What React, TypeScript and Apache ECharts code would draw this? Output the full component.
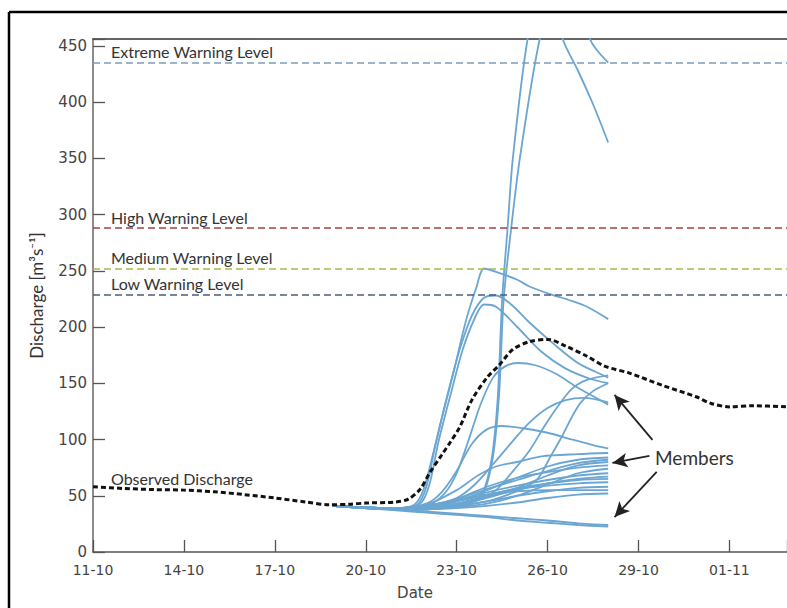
import React, { useEffect, useRef } from 'react';
import * as echarts from 'echarts';

// ---- axes ----
const xTickLabels = ['11-10', '14-10', '17-10', '20-10', '23-10', '26-10', '29-10', '01-11'];
const xTickStep = 3; // days between ticks (day 0 = 11-10)
const xMaxDay = 22.9;
const yMax = 456;
const yTickStep = 50;

// ---- observed discharge (day offset, m3/s) ----
const observedDays = [0, 1, 2, 3, 4, 5, 6, 7, 7.8, 8.5, 9, 10, 10.4, 10.8, 11.1, 11.5, 11.8, 12.1, 12.5, 13.0, 13.4, 13.85, 14.4, 15.0, 15.6, 16.3, 16.9, 17.7, 18.8, 19.9, 20.4, 21.0, 21.8, 22.9];
const observedValues = [58, 56.5, 55.5, 55, 53.5, 51, 48, 44.5, 42, 42.5, 43.5, 44.5, 47, 56, 70, 86, 98, 111, 135, 155, 166, 180, 187, 189, 183, 174, 165, 159, 148, 138, 132, 129, 130, 129];

// ---- warning levels ----
const warningNames = ['Extreme Warning Level', 'High Warning Level', 'Medium Warning Level', 'Low Warning Level'];
const warningValues = [435, 288, 252, 229];

// ---- ensemble members ([day, value]) ----
const m01 = [[7.9, 41], [10, 39], [11, 40], [12, 42], [12.5, 45], [12.85, 52], [13.15, 82], [13.35, 135], [13.5, 224], [13.68, 288], [13.85, 349], [14.34, 456], [14.9, 520], [15.5, 456], [16, 428], [16.5, 398], [17, 364]];
const m02 = [[7.9, 41], [10, 39], [11, 40], [12, 42], [12.6, 46], [12.9, 53], [13.2, 85], [13.4, 140], [13.55, 224], [13.8, 288], [14.08, 349], [14.74, 456], [15.6, 540], [16.4, 456], [17, 435]];
const m03 = [[7.9, 41], [10, 39], [10.6, 42], [10.9, 55], [11.2, 85], [11.5, 118], [11.9, 160], [12.3, 205], [12.66, 236], [12.9, 252], [13.3, 249], [14.0, 242], [14.4, 236], [15.1, 229], [15.7, 224], [16.3, 218], [17, 207]];
const m04 = [[7.9, 41], [10, 39], [10.7, 42], [11.0, 58], [11.3, 95], [11.7, 140], [12.1, 180], [12.5, 210], [12.9, 226], [13.3, 228], [13.8, 220], [14.4, 204], [15.2, 185], [16.0, 168], [16.6, 160], [17, 155]];
const m05 = [[7.9, 41], [10, 39], [10.8, 43], [11.1, 60], [11.4, 98], [11.8, 140], [12.2, 180], [12.6, 208], [12.9, 220], [13.3, 218], [14.0, 200], [14.8, 178], [15.6, 163], [16.4, 154], [17, 150]];
const m06 = [[7.9, 41], [10, 39], [11, 41], [11.6, 52], [12.0, 70], [12.4, 100], [12.8, 132], [13.2, 155], [13.6, 165], [14.0, 168], [14.6, 166], [15.3, 158], [16.0, 146], [16.6, 137], [17, 131]];
const m07 = [[7.9, 41], [10, 39], [11, 43], [11.5, 53], [12.0, 72], [12.5, 96], [13.0, 109], [13.5, 112], [14.2, 110], [15.0, 106], [15.8, 100], [16.5, 95], [17, 92]];
const m08 = [[7.9, 41], [10, 38], [11, 38], [12, 41], [12.8, 47], [13.3, 55], [13.8, 70], [14.4, 90], [14.9, 112], [15.3, 128], [15.8, 145], [16.3, 153], [17, 157]];
const m09 = [[7.9, 41], [10, 38], [11, 39], [12, 41], [13, 45], [13.8, 52], [14.3, 58], [14.7, 66], [15.1, 85], [15.5, 104], [15.8, 120], [16.1, 133], [16.5, 143], [17, 150]];
const m10 = [[7.9, 41], [10, 39], [11, 41], [12, 48], [12.6, 60], [13.2, 78], [13.8, 97], [14.4, 115], [15.0, 128], [15.6, 135], [16.2, 137], [17, 133]];
const m11 = [[7.9, 41], [10, 39], [11, 42], [12, 55], [12.7, 68], [13.3, 76], [14, 80], [14.8, 85], [16, 87], [17, 88]];
const m12 = [[7.9, 41], [10, 39], [11, 40], [12, 45], [13, 55], [14, 66], [15, 76], [16, 82], [17, 84]];
const m13 = [[7.9, 41], [10, 38], [11, 39], [12, 42], [13, 48], [14, 57], [15, 68], [16, 77], [17, 80]];
const m14 = [[7.9, 41], [10, 39], [11, 41], [12, 47], [13, 58], [14, 66], [15, 71], [16, 75], [17, 77]];
const m15 = [[7.9, 41], [10, 38], [11, 38], [12, 40], [13, 43], [14, 50], [15, 60], [16, 70], [17, 74]];
const m16 = [[7.9, 41], [10, 39], [11, 41], [12, 46], [13, 53], [14, 59], [15, 64], [16, 68], [17, 70]];
const m17 = [[7.9, 41], [10, 38], [11, 39], [12, 43], [13, 49], [14, 55], [15, 61], [16, 65], [17, 67]];
const m18 = [[7.9, 41], [10, 39], [11, 40], [12, 45], [13, 51], [14, 56], [15, 59], [16, 61], [17, 62]];
const m19 = [[7.9, 41], [10, 38], [11, 38], [12, 41], [13, 45], [14, 50], [15, 54], [16, 57], [17, 58]];
const m20 = [[7.9, 41], [10, 39], [11, 41], [12, 46], [13, 51], [14, 54], [15, 55], [16, 55], [17, 55]];
const m21 = [[7.9, 41], [10, 38], [11, 38], [12, 39], [13, 41], [14, 44], [15, 48], [16, 51], [17, 52]];
const m22 = [[7.9, 41], [10, 38], [11, 36], [12, 34], [13, 32], [14, 30], [15, 28], [16, 25.5], [17, 24]];
const m23 = [[7.9, 41], [10, 37], [11, 35], [12, 33], [13, 31], [14, 28], [15, 26], [16, 24], [17, 22.5]];
const m24 = [[7.9, 41], [10, 38], [11, 39], [12, 43], [13, 50], [14, 57], [15, 61], [16, 64], [17, 65]];
const m25 = [[7.9, 41], [10, 39], [11, 41], [12, 47], [13, 56], [14, 64], [15, 72], [16, 79], [17, 82]];
const members = [m01, m02, m03, m04, m05, m06, m07, m08, m09, m10, m11, m12, m13, m14, m15, m16, m17, m18, m19, m20, m21, m22, m23, m24, m25];

// ---- annotation arrows (data coordinates) ----
const arrowFrom = [[18.46, 99.6], [18.36, 85.4], [18.6, 71.2]];
const arrowTo = [[17.21, 139.6], [17.14, 79.2], [17.21, 31.1]];

const membersText = 'Members';
const observedText = 'Observed Discharge';
const xName = 'Date';
const yName = 'Discharge [m³s⁻¹]';

export default function App() {
  const ref = useRef<HTMLDivElement>(null);

  useEffect(() => {
    if (!ref.current) return;
    const chart = echarts.init(ref.current, null, { renderer: 'svg' });
    const warnColors = ['#7d9cc0', '#a5403f', '#a9b852', '#4d5a80'];
    const memberColor = '#6ba6d2';
    const labelFont = 'Lato';
    const numFont = 'DejaVu Sans';

    const series: any[] = members.map((m, i) => ({
      type: 'line',
      name: 'Member ' + (i + 1),
      data: m,
      showSymbol: false,
      smooth: 0.3,
      silent: true,
      z: 2,
      lineStyle: { color: memberColor, width: 1.8 },
    }));
    series.push({
      type: 'line',
      name: observedText,
      data: observedDays.map((d, i) => [d, observedValues[i]]),
      showSymbol: false,
      smooth: 0.3,
      silent: true,
      z: 4,
      lineStyle: { color: '#111', width: 3, type: [5, 3] },
      markLine: {
        silent: true,
        symbol: 'none',
        label: { show: false },
        data: warningValues.map((v, i) => ({
          yAxis: v,
          lineStyle: { color: warnColors[i], width: 1.6, type: [7, 4] },
        })),
      },
    });
    series.push({
      type: 'line',
      name: 'arrows',
      data: [],
      silent: true,
      z: 5,
      markLine: {
        silent: true,
        symbol: ['none', 'arrow'],
        symbolSize: [11, 15],
        label: { show: false },
        lineStyle: { color: '#222', width: 1.8, type: 'solid' },
        data: arrowFrom.map((f, i) => [{ coord: f }, { coord: arrowTo[i] }]),
      },
    });

    chart.setOption({
      animation: false,
      backgroundColor: '#ffffff',
      grid: { left: 93, top: 39, right: 0, bottom: 56, containLabel: false, outerBoundsMode: 'none' },
      xAxis: [
        {
          type: 'value',
          min: 0,
          max: xMaxDay,
          interval: xTickStep,
          name: xName,
          nameLocation: 'middle',
          nameGap: 33,
          nameTextStyle: { fontFamily: numFont, fontSize: 15, color: '#444', padding: [0, 50, 0, 0] },
          axisLine: { show: true, lineStyle: { color: '#555', width: 1.5 } },
          axisTick: { show: true, inside: true, length: 12, lineStyle: { color: '#555', width: 1.3 } },
          axisLabel: {
            color: '#444',
            fontFamily: numFont,
            fontSize: 14,
            margin: 11,
            formatter: (v: number) => {
              const i = Math.round(v / xTickStep);
              return Math.abs(v - i * xTickStep) < 1e-6 && i < xTickLabels.length ? xTickLabels[i] : '';
            },
          },
          splitLine: { show: false },
        },
        {
          type: 'value',
          position: 'top',
          min: 0,
          max: xMaxDay,
          axisLine: { show: true, lineStyle: { color: '#333', width: 1.5 } },
          axisTick: { show: false },
          axisLabel: { show: false },
          splitLine: { show: false },
        },
      ],
      yAxis: {
        type: 'value',
        min: 0,
        max: yMax,
        interval: yTickStep,
        name: yName,
        nameLocation: 'middle',
        nameGap: 48,
        nameTextStyle: { fontFamily: labelFont, fontSize: 17, color: '#333' },
        axisLine: { show: true, lineStyle: { color: '#666', width: 1.5 } },
        axisTick: { show: true, inside: true, length: 12, lineStyle: { color: '#555', width: 1.3 } },
        axisLabel: {
          color: '#444',
          fontFamily: numFont,
          fontSize: 15,
          margin: 6,
          formatter: (v: number) => (v % yTickStep === 0 ? String(v) : ''),
        },
        splitLine: { show: false },
      },
      series,
    });

    const graphics: any[] = [
      { type: 'line', shape: { x1: 9, y1: 12, x2: 787, y2: 12 }, style: { stroke: '#000', lineWidth: 2.5 }, silent: true },
      { type: 'line', shape: { x1: 9, y1: 12, x2: 9, y2: 608 }, style: { stroke: '#000', lineWidth: 2.5 }, silent: true },
    ];
    warningNames.forEach((n, i) => {
      const p = chart.convertToPixel({ gridIndex: 0 }, [0, warningValues[i]]) as number[];
      graphics.push({
        type: 'text',
        x: 111,
        y: p[1] - 3,
        silent: true,
        style: { text: n, fontFamily: labelFont, fontSize: 16, fill: '#333', align: 'left', verticalAlign: 'bottom' },
      });
    });
    graphics.push({
      type: 'text',
      x: 111,
      y: 478,
      silent: true,
      style: { text: observedText, fontFamily: labelFont, fontSize: 16, fill: '#333', align: 'left', verticalAlign: 'middle' },
    });
    graphics.push({
      type: 'text',
      x: 655,
      y: 457,
      silent: true,
      style: { text: membersText, fontFamily: labelFont, fontSize: 19, fill: '#333', align: 'left', verticalAlign: 'middle' },
    });
    chart.setOption({ graphic: graphics });

    return () => chart.dispose();
  }, []);

  return <div ref={ref} style={{ position: 'fixed', left: 0, top: 0, width: 787, height: 608 }} />;
}
